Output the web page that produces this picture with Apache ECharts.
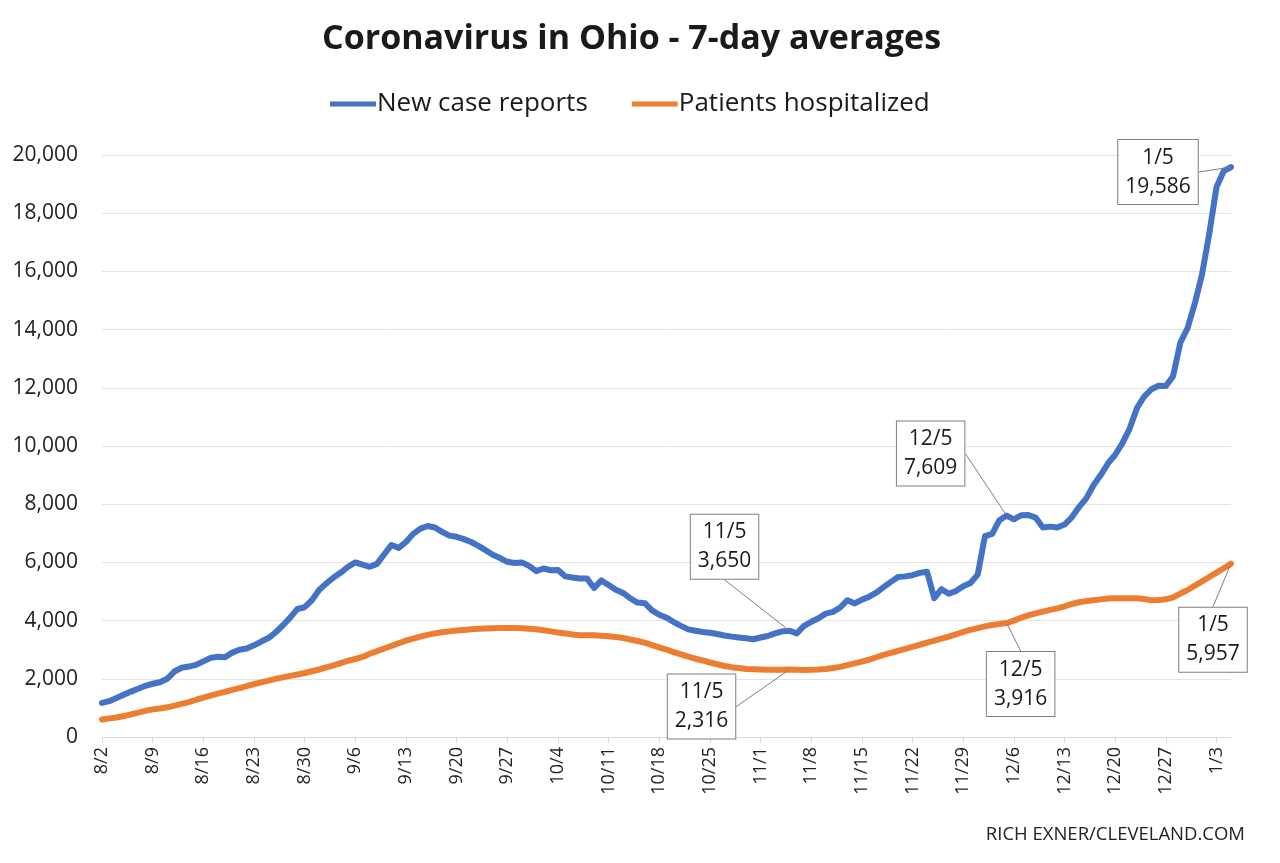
<!DOCTYPE html>
<html>
<head>
<meta charset="utf-8">
<script src="https://cdn.jsdelivr.net/npm/echarts@6/dist/echarts.min.js"></script>
<style>html,body{margin:0;padding:0;background:#fff;}#chart{width:1280px;height:863px;}</style>
</head>
<body>
<div id="chart"></div>
<script>
const titleText = 'Coronavirus in Ohio - 7-day averages';
const seriesNames = ['New case reports', 'Patients hospitalized'];
const sourceText = 'RICH EXNER/CLEVELAND.COM';

const dates = [
'8/2','8/3','8/4','8/5','8/6','8/7','8/8','8/9','8/10','8/11','8/12','8/13','8/14','8/15','8/16','8/17','8/18','8/19','8/20','8/21','8/22','8/23','8/24','8/25','8/26','8/27','8/28','8/29','8/30','8/31',
'9/1','9/2','9/3','9/4','9/5','9/6','9/7','9/8','9/9','9/10','9/11','9/12','9/13','9/14','9/15','9/16','9/17','9/18','9/19','9/20','9/21','9/22','9/23','9/24','9/25','9/26','9/27','9/28','9/29','9/30',
'10/1','10/2','10/3','10/4','10/5','10/6','10/7','10/8','10/9','10/10','10/11','10/12','10/13','10/14','10/15','10/16','10/17','10/18','10/19','10/20','10/21','10/22','10/23','10/24','10/25','10/26','10/27','10/28','10/29','10/30','10/31',
'11/1','11/2','11/3','11/4','11/5','11/6','11/7','11/8','11/9','11/10','11/11','11/12','11/13','11/14','11/15','11/16','11/17','11/18','11/19','11/20','11/21','11/22','11/23','11/24','11/25','11/26','11/27','11/28','11/29','11/30',
'12/1','12/2','12/3','12/4','12/5','12/6','12/7','12/8','12/9','12/10','12/11','12/12','12/13','12/14','12/15','12/16','12/17','12/18','12/19','12/20','12/21','12/22','12/23','12/24','12/25','12/26','12/27','12/28','12/29','12/30','12/31',
'1/1','1/2','1/3','1/4','1/5'
];

const newCases = [
1170,1230,1340,1450,1560,1660,1760,1830,1880,2000,
2250,2380,2420,2480,2600,2720,2760,2740,2900,3000,
3040,3150,3280,3400,3600,3840,4100,4400,4460,4700,
5050,5280,5480,5650,5850,6000,5920,5850,5950,6280,
6600,6500,6700,6980,7160,7250,7200,7050,6920,6880,
6800,6700,6570,6420,6260,6150,6020,5980,6000,5880,
5700,5790,5730,5740,5520,5480,5450,5450,5120,5380,
5220,5060,4950,4760,4620,4600,4350,4200,4100,3950,
3820,3700,3650,3610,3580,3540,3490,3450,3420,3390,
3360,3420,3470,3560,3630,3650,3560,3820,3960,4080,
4240,4300,4450,4700,4590,4720,4820,4960,5150,5330,
5500,5520,5560,5640,5680,4770,5080,4920,5020,5180,
5290,5580,6900,6980,7450,7609,7480,7620,7630,7540,
7200,7230,7200,7300,7550,7900,8200,8650,9000,9400,
9700,10100,10600,11300,11700,11950,12070,12060,12400,13550,
14050,14900,15900,17300,18900,19450,19586
];

const hospitalized = [
600,640,670,720,780,840,900,950,980,1020,
1080,1140,1200,1280,1350,1420,1490,1550,1620,1680,
1750,1820,1880,1940,2000,2050,2100,2150,2200,2260,
2320,2390,2460,2540,2620,2680,2750,2860,2950,3040,
3130,3220,3310,3380,3450,3510,3560,3600,3630,3660,
3680,3700,3720,3730,3740,3750,3750,3750,3740,3720,
3700,3670,3630,3590,3560,3520,3500,3500,3500,3480,
3460,3440,3400,3350,3300,3240,3160,3080,3000,2920,
2840,2760,2690,2630,2560,2500,2440,2400,2370,2340,
2330,2320,2310,2310,2310,2316,2310,2300,2310,2320,
2340,2370,2410,2470,2530,2590,2660,2740,2820,2890,
2960,3030,3100,3170,3240,3310,3380,3450,3530,3610,
3680,3740,3800,3850,3880,3916,4000,4100,4180,4250,
4310,4370,4420,4490,4570,4630,4670,4700,4730,4760,
4770,4770,4770,4770,4740,4700,4710,4730,4800,4930,
5050,5200,5350,5500,5650,5800,5957
];

const annotatedDates = ['11/5', '12/5', '1/5'];
const yTicks = [0, 2000, 4000, 6000, 8000, 10000, 12000, 14000, 16000, 18000, 20000];

// label offsets (pixels) for callouts: [seriesIndex][date]
const calloutOffsets = [
  {'11/5': [-65, -84], '12/5': [-76, -62], '1/5': [-73, 5]},
  {'11/5': [-88, 37], '12/5': [14, 61], '1/5': [-18, 76]}
];

function fmt(n) { return n.toLocaleString('en-US'); }

function buildData(values) {
  return values.map(function (v, i) {
    if (annotatedDates.indexOf(dates[i]) >= 0) {
      return {
        value: v,
        symbol: 'circle',
        symbolSize: 2,
        label: {
          show: true,
          position: 'inside',
          formatter: dates[i] + '\n' + fmt(v),
          backgroundColor: '#ffffff',
          borderColor: '#7f7f7f',
          borderWidth: 1,
          padding: [4, 7, 2, 7],
          fontSize: 21,
          lineHeight: 29,
          color: '#1a1a1a',
          fontFamily: 'Open Sans',
          align: 'center'
        },
        labelLine: { show: true, lineStyle: { color: '#7f7f7f', width: 1 } }
      };
    }
    return { value: v, symbol: 'none' };
  });
}

const chart = echarts.init(document.getElementById('chart'));
const colors = ['#4472C4', '#ED7D31'];

chart.setOption({
  animation: false,
  backgroundColor: '#ffffff',
  color: colors,
  title: [
    {
      text: titleText,
      left: 317,
      top: 17,
      textStyle: { fontFamily: 'Open Sans', fontWeight: 'bold', fontSize: 34, color: '#1a1a1a' }
    },
    {
      text: sourceText,
      right: 30,
      top: 820,
      textStyle: { fontFamily: 'Open Sans', fontWeight: 'normal', fontSize: 18.5, color: '#222' }
    }
  ],
  legend: {
    top: 86,
    left: 325,
    itemGap: 44,
    itemWidth: 46,
    itemHeight: 5,
    icon: 'rect',
    textStyle: { fontFamily: 'Open Sans', fontSize: 26, color: '#1a1a1a', padding: [0, 0, 0, -4] },
    data: seriesNames
  },
  grid: { left: 102, right: 49, top: 155, bottom: 126, containLabel: false },
  xAxis: {
    type: 'category',
    data: dates,
    boundaryGap: false,
    axisLine: { lineStyle: { color: '#d9d9d9', width: 1 } },
    axisTick: { show: true, interval: 6, length: 6, lineStyle: { color: '#d9d9d9' } },
    axisLabel: { interval: 6, rotate: 90, margin: 10, fontSize: 18, fontFamily: 'Open Sans', color: '#222' },
    splitLine: { show: false }
  },
  yAxis: {
    type: 'value',
    min: yTicks[0],
    max: yTicks[yTicks.length - 1],
    interval: yTicks[1] - yTicks[0],
    axisLine: { show: false },
    axisTick: { show: false },
    axisLabel: { margin: 24, fontSize: 21, fontFamily: 'Open Sans', color: '#222', formatter: function (v) { return fmt(v); } },
    splitLine: { lineStyle: { color: '#e3e3e3', width: 1 } }
  },
  series: [
    {
      name: seriesNames[0],
      type: 'line',
      data: buildData(newCases),
      showSymbol: true,
      showAllSymbol: true,
      lineStyle: { width: 6, color: colors[0], cap: 'round', join: 'round' },
      itemStyle: { color: colors[0] },
      z: 3,
      labelLayout: function (p) {
        const o = calloutOffsets[0][dates[p.dataIndex]];
        return o ? { dx: o[0], dy: o[1] } : {};
      }
    },
    {
      name: seriesNames[1],
      type: 'line',
      data: buildData(hospitalized),
      showSymbol: true,
      showAllSymbol: true,
      lineStyle: { width: 6, color: colors[1], cap: 'round', join: 'round' },
      itemStyle: { color: colors[1] },
      z: 2,
      labelLayout: function (p) {
        const o = calloutOffsets[1][dates[p.dataIndex]];
        return o ? { dx: o[0], dy: o[1] } : {};
      }
    }
  ]
});
</script>
</body>
</html>
